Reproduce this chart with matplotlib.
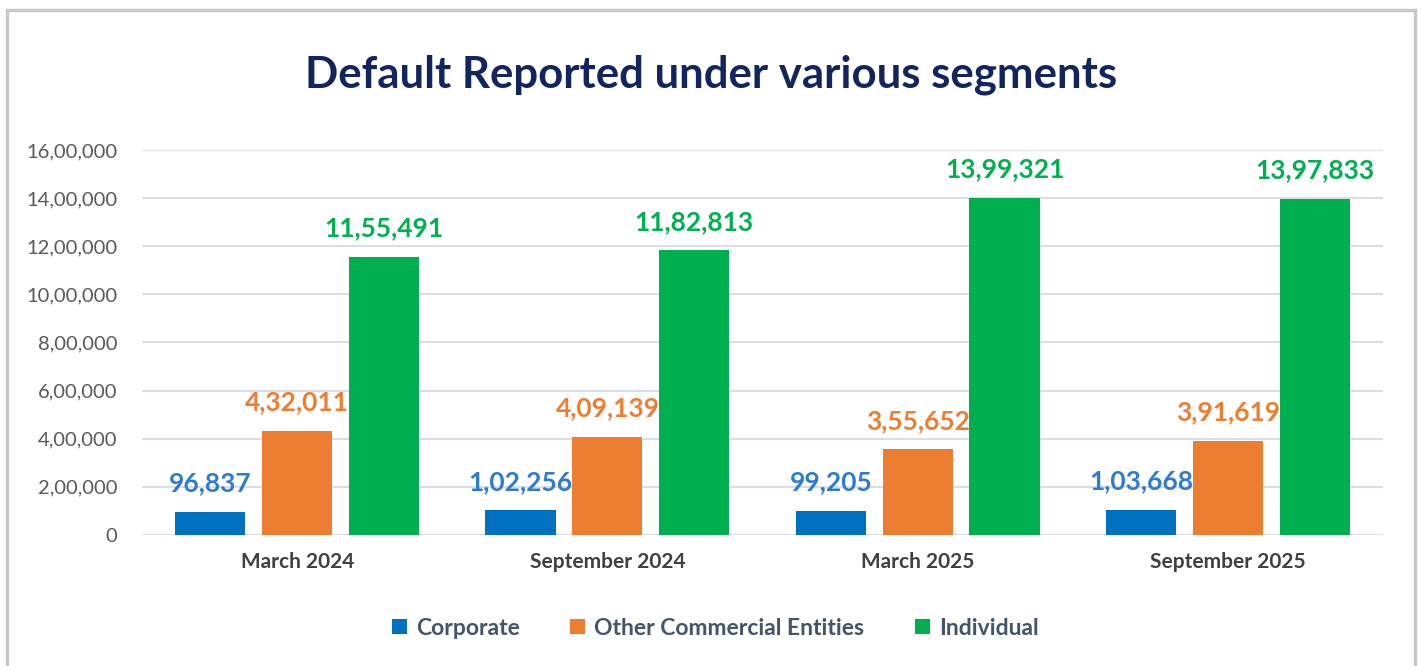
import numpy as np
import matplotlib
matplotlib.use("Agg")
import matplotlib.pyplot as plt
from matplotlib.patches import Rectangle

periods = ["March 2024", "September 2024", "March 2025", "September 2025"]
segments = ["Corporate", "Other Commercial Entities", "Individual"]
corporate = [96837, 102256, 99205, 103668]
other_commercial = [432011, 409139, 355652, 391619]
individual = [1155491, 1182813, 1399321, 1397833]

bar_colors = ["#0070C0", "#ED7D31", "#00B050"]
label_colors = ["#2E7BD0", "#ED7D31", "#00B050"]


def indian_format(v):
    s = str(int(v))
    if len(s) <= 3:
        return s
    head, tail = s[:-3], s[-3:]
    parts = []
    while len(head) > 2:
        parts.insert(0, head[-2:])
        head = head[:-2]
    if head:
        parts.insert(0, head)
    return ",".join(parts + [tail])


plt.rcParams["font.family"] = ["Lato", "DejaVu Sans"]

fig = plt.figure(figsize=(14.22, 6.66), dpi=100)
ax = fig.add_axes([0.0999, 0.1967, 0.8727, 0.5781])

# outer frame like the source screenshot
fig.patches.append(Rectangle((0.005, -0.05), 0.990, 1.035, transform=fig.transFigure,
                             fill=False, edgecolor="#C8C8C8", linewidth=2.5))

x = np.arange(len(periods))
width = 0.226
step = 0.28
series = [corporate, other_commercial, individual]
for i, (vals, name) in enumerate(zip(series, segments)):
    pos = x + (i - 1) * step
    bars = ax.bar(pos, vals, width=width, color=bar_colors[i], label=name, zorder=3)
    for b, v in zip(bars, vals):
        ax.annotate(indian_format(v), (b.get_x() + b.get_width() / 2, v),
                    xytext=(0, 12), textcoords="offset points", ha="center", va="bottom",
                    fontsize=19, fontweight="bold", color=label_colors[i])

ax.set_xlim(-0.5, 3.5)
ax.set_ylim(0, 1600000)
yt = np.arange(0, 1600001, 200000)
ax.set_yticks(yt)
ax.set_yticklabels([indian_format(v) for v in yt], fontsize=14.5, color="#595959")
ax.set_xticks(x)
ax.set_xticklabels(periods, fontsize=15, fontweight="bold", color="#404040")
ax.tick_params(axis="both", length=0)
ax.tick_params(axis="y", pad=18)
ax.tick_params(axis="x", pad=12)
ax.grid(axis="y", color="#D9DEE8", linewidth=1.5, zorder=0)
for s in ax.spines.values():
    s.set_visible(False)

fig.text(0.5, 0.888, "Default Reported under various segments", ha="center", va="center",
         fontsize=31.5, fontweight="bold", color="#13255F")

leg = fig.legend(loc="center", bbox_to_anchor=(0.503, 0.057), ncol=3, frameon=False,
                 prop={"size": 16.5, "weight": "bold"}, handlelength=0.65,
                 handleheight=0.65, handletextpad=0.4, columnspacing=2.2)
for t in leg.get_texts():
    t.set_color("#44546A")

fig.savefig("out.png", dpi=100, facecolor="white")
